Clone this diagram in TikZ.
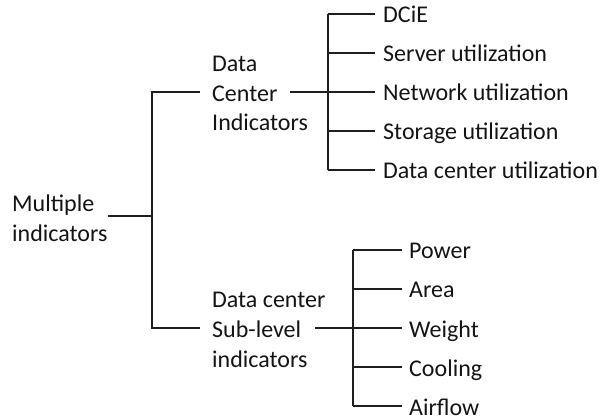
\documentclass[tikz,border=0pt]{standalone}
\usepackage{fontspec}
\setmainfont{Carlito}
\newcommand{\lines}[1]{\begin{tabular}[t]{@{}l@{}}#1\end{tabular}}
\begin{document}
\begin{tikzpicture}[x=1pt,y=-1pt,
  lbl/.style={inner sep=0pt, anchor=base west, text=black!92,
    font=\fontsize{24}{29.5}\selectfont},
  wire/.style={line width=1.6pt, draw=black!88}]
\useasboundingbox (0,0) rectangle (607,419);

% root
\node[lbl] (root) at (12,212) {\lines{Multiple\\indicators}};
\coordinate (rj) at (152,216);
\coordinate (rt) at (200,92);
\coordinate (rb) at (200,328);
\draw[wire] (root.east |- rj) -- (rj);
\draw[wire] (rt) -- (rt -| rj) -- (rb -| rj) -- (rb);

% data center indicators
\node[lbl] (dci) at (212,72) {\lines{Data\\Center\\Indicators}};
\coordinate (dco) at (290,92);
\coordinate (dcv) at (328,92);
\draw[wire] (dco) -- (dcv);
\foreach \t/\yy [count=\i] in {DCiE/14,Server utilization/53,Network utilization/92,Storage utilization/131,Data center utilization/170}{
  \node[lbl] (a\i) at (383,\yy+8.5) {\t};
  \coordinate (a\i e) at ([shift={(-8pt,8.5pt)}]a\i.base west);
  \draw[wire] (a\i e -| dcv) -- (a\i e);
}
\draw[wire] (a1e -| dcv) -- (a5e -| dcv);

% sub-level indicators
\node[lbl] (sub) at (212,308) {\lines{Data center\\Sub-level\\indicators}};
\coordinate (sbo) at (315,328);
\coordinate (sbv) at (353,328);
\draw[wire] (sbo) -- (sbv);
\foreach \t/\yy [count=\i] in {Power/250,Area/289,Weight/328,Cooling/367,Airflow/406}{
  \node[lbl] (b\i) at (409,\yy+9) {\t};
  \coordinate (b\i e) at ([shift={(-7pt,9pt)}]b\i.base west);
  \draw[wire] (b\i e -| sbv) -- (b\i e);
}
\draw[wire] (b1e -| sbv) -- (b5e -| sbv);
\end{tikzpicture}
\end{document}
